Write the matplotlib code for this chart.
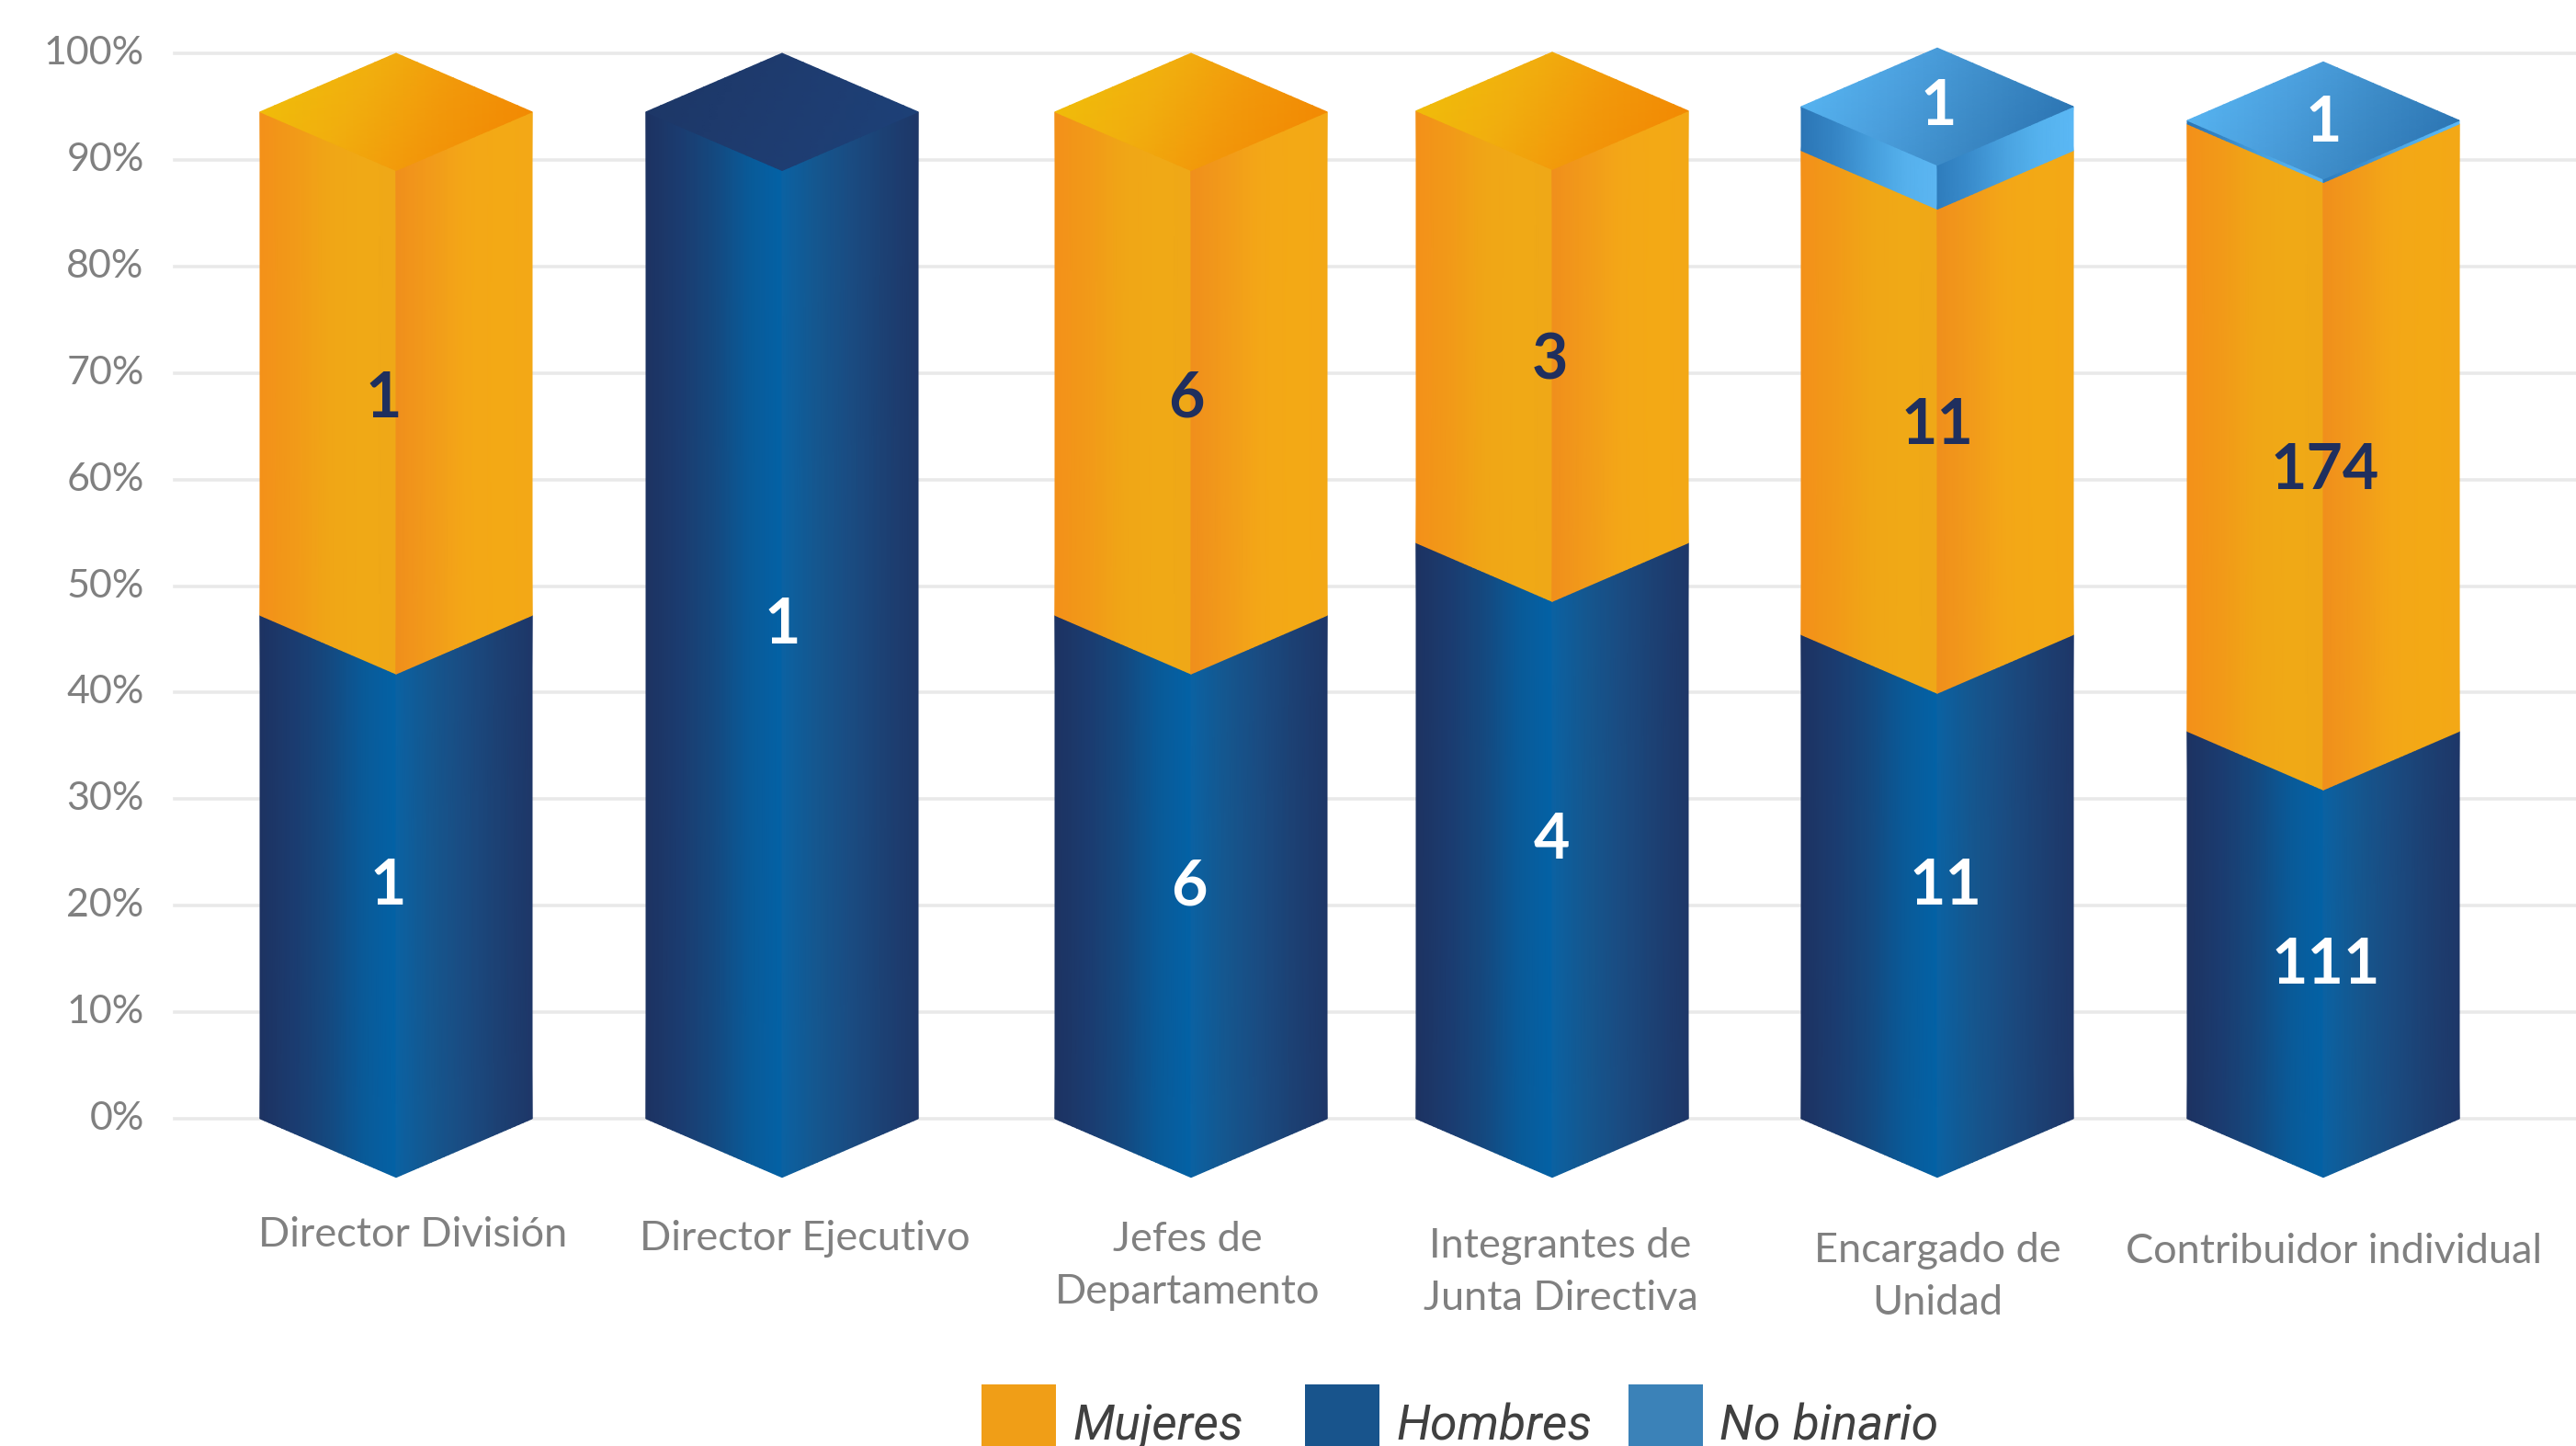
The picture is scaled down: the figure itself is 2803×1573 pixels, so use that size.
import numpy as np
import matplotlib
matplotlib.use('Agg')
import matplotlib.pyplot as plt
from matplotlib.colors import LinearSegmentedColormap
from matplotlib.patches import Rectangle
from matplotlib.transforms import ScaledTranslation

W, H = 2803, 1573

categories = ['Director División', 'Director Ejecutivo', 'Jefes de\nDepartamento',
              'Integrantes de\nJunta Directiva', 'Encargado de\nUnidad', 'Contribuidor individual']
hombres = [1, 1, 6, 4, 11, 111]
mujeres = [1, 0, 6, 3, 11, 174]
no_binario = [0, 0, 0, 0, 1, 1]
# height on the percent axis where the side edges of each column end
stack_top = [94.5, 94.5, 94.5, 94.6, 95.0, 93.7]
y_ticks = [0, 10, 20, 30, 40, 50, 60, 70, 80, 90, 100]
legend_names = ['Mujeres', 'Hombres', 'No binario']

# layout, all in figure pixels
centers = [431, 851, 1296, 1689, 2108, 2528]
half_w = 148
depth = 5.5
cat_pos = [(449, 1344), (876, 1347), (1292, 1377), (1698, 1384), (2108, 1389), (2540, 1361)]
hombres_pos = [(422, 965), (851, 681), (1294, 965), (1688, 915), (2117, 965), (2531, 1051)]
mujeres_pos = [(417, 434), None, (1291, 434), (1686, 393), (2108, 464), (2530, 512)]
nb_pos = [None, None, None, None, (2109, 117), (2528, 134)]

ramps = {
    'blue_l': ['#1d3362', '#1b3c70', '#15497f', '#0a5a98', '#0362a6'],
    'blue_r': ['#0b62a3', '#15578f', '#1a4c82', '#1c4174', '#1e3768'],
    'blue_t': ['#1d3767', '#1e3c70', '#1d4077'],
    'orange_l': ['#f39119', '#f29a18', '#f0a616', '#f0a916', '#efa817'],
    'orange_r': ['#f08f1c', '#f29b1a', '#f3a717', '#f3a915', '#f3a816'],
    'orange_t': ['#f0bc0a', '#f1ae0e', '#f2980a', '#f28a03'],
    'nb_l': ['#2c76b6', '#3585c5', '#459ddb', '#55b0ec', '#5cb6f2'],
    'nb_r': ['#2f7dbd', '#3a8dcd', '#4aa3e0', '#55b2ee', '#5bb8f5'],
    'nb_t': ['#56b3f0', '#4b9fdd', '#3c8ac6', '#2d76b4'],
}
cmaps = {k: LinearSegmentedColormap.from_list(k, v) for k, v in ramps.items()}


def mesh(ax, X, Y, C, name):
    q = ax.pcolormesh(X, Y, C, shading='gouraud', cmap=cmaps[name], vmin=0, vmax=1,
                      zorder=3, linewidth=0)
    q.set_clip_on(False)


def segment(ax, xc, y0, y1, kind):
    f = np.linspace(0, 1, 32)
    # left face runs down towards the front edge, right face back up
    for side, frac, xs in [('l', f, xc - half_w + f * half_w), ('r', 1 - f, xc + f * half_w)]:
        X = np.vstack([xs, xs])
        Y = np.vstack([y0 - depth * frac, y1 - depth * frac])
        C = np.vstack([f, f])
        mesh(ax, X, Y, C, kind + '_' + side)


def cap(ax, xc, y, kind):
    u, v = np.meshgrid(np.linspace(0, 1, 20), np.linspace(0, 1, 20))
    X = xc - half_w + half_w * (u + v)
    Y = y + depth * (u - v)
    C = np.clip((u + v) / 2 + 0.12 * (v - u), 0, 1)
    mesh(ax, X, Y, C, kind + '_t')


def px_text(fig, x, y, s, **kw):
    fig.text(x / W, 1 - y / H, s, **kw)


fig = plt.figure(figsize=(W / 100, H / 100), dpi=100)
ax = fig.add_axes([190 / W, 1 - 1217 / H, (W - 190) / W, (1217 - 58) / H])
ax.set_xlim(190, W)
ax.set_ylim(0, 100)
for s in ax.spines.values():
    s.set_visible(False)
ax.set_xticks([])
ax.set_yticks(y_ticks)
ax.set_yticklabels([f'{t}%' for t in y_ticks], family='Lato', fontsize=31, color='#808080')
ax.tick_params(axis='y', length=0, pad=24)
nudge = ScaledTranslation(0, 3.5 / 100, fig.dpi_scale_trans)
for lab in ax.get_yticklabels():
    lab.set_transform(lab.get_transform() + nudge)
ax.grid(axis='y', color='#e9e9e9', lw=2.6, clip_on=False, zorder=0)
ax.set_axisbelow(True)

for i, xc in enumerate(centers):
    total = hombres[i] + mujeres[i] + no_binario[i]
    level = 0
    top_kind = 'blue'
    for count, kind in [(hombres[i], 'blue'), (mujeres[i], 'orange'), (no_binario[i], 'nb')]:
        if count == 0:
            continue
        y1 = level + count / total * stack_top[i]
        segment(ax, xc, level, y1, kind)
        level = y1
        top_kind = kind
    cap(ax, xc, level, top_kind)

    txt = dict(family='Lato', fontweight='bold', fontsize=49, ha='center', va='center', zorder=5)
    px_text(fig, *hombres_pos[i], str(hombres[i]), color='white', **txt)
    if mujeres_pos[i]:
        px_text(fig, *mujeres_pos[i], str(mujeres[i]), color='#1f2f5e', **txt)
    if nb_pos[i]:
        px_text(fig, *nb_pos[i], str(no_binario[i]), color='white', **txt)
    px_text(fig, *cat_pos[i], categories[i], family='Lato', fontsize=32.5, color='#808080',
            ha='center', va='center', linespacing=1.5)

# legend along the bottom edge, swatches run off the figure
swatches = [(1068, '#f09e17'), (1420, '#18548c'), (1772, '#3b82b8')]
for (x, c), name in zip(swatches, legend_names):
    fig.add_artist(Rectangle((x / W, 0), 81 / W, (H - 1506) / H, transform=fig.transFigure,
                             facecolor=c, edgecolor='none'))
    px_text(fig, x + 99, 1552, name, family='Roboto', style='italic', fontsize=38.5,
            color='#404040', ha='left', va='center')

fig.savefig('out.png', dpi=100)
